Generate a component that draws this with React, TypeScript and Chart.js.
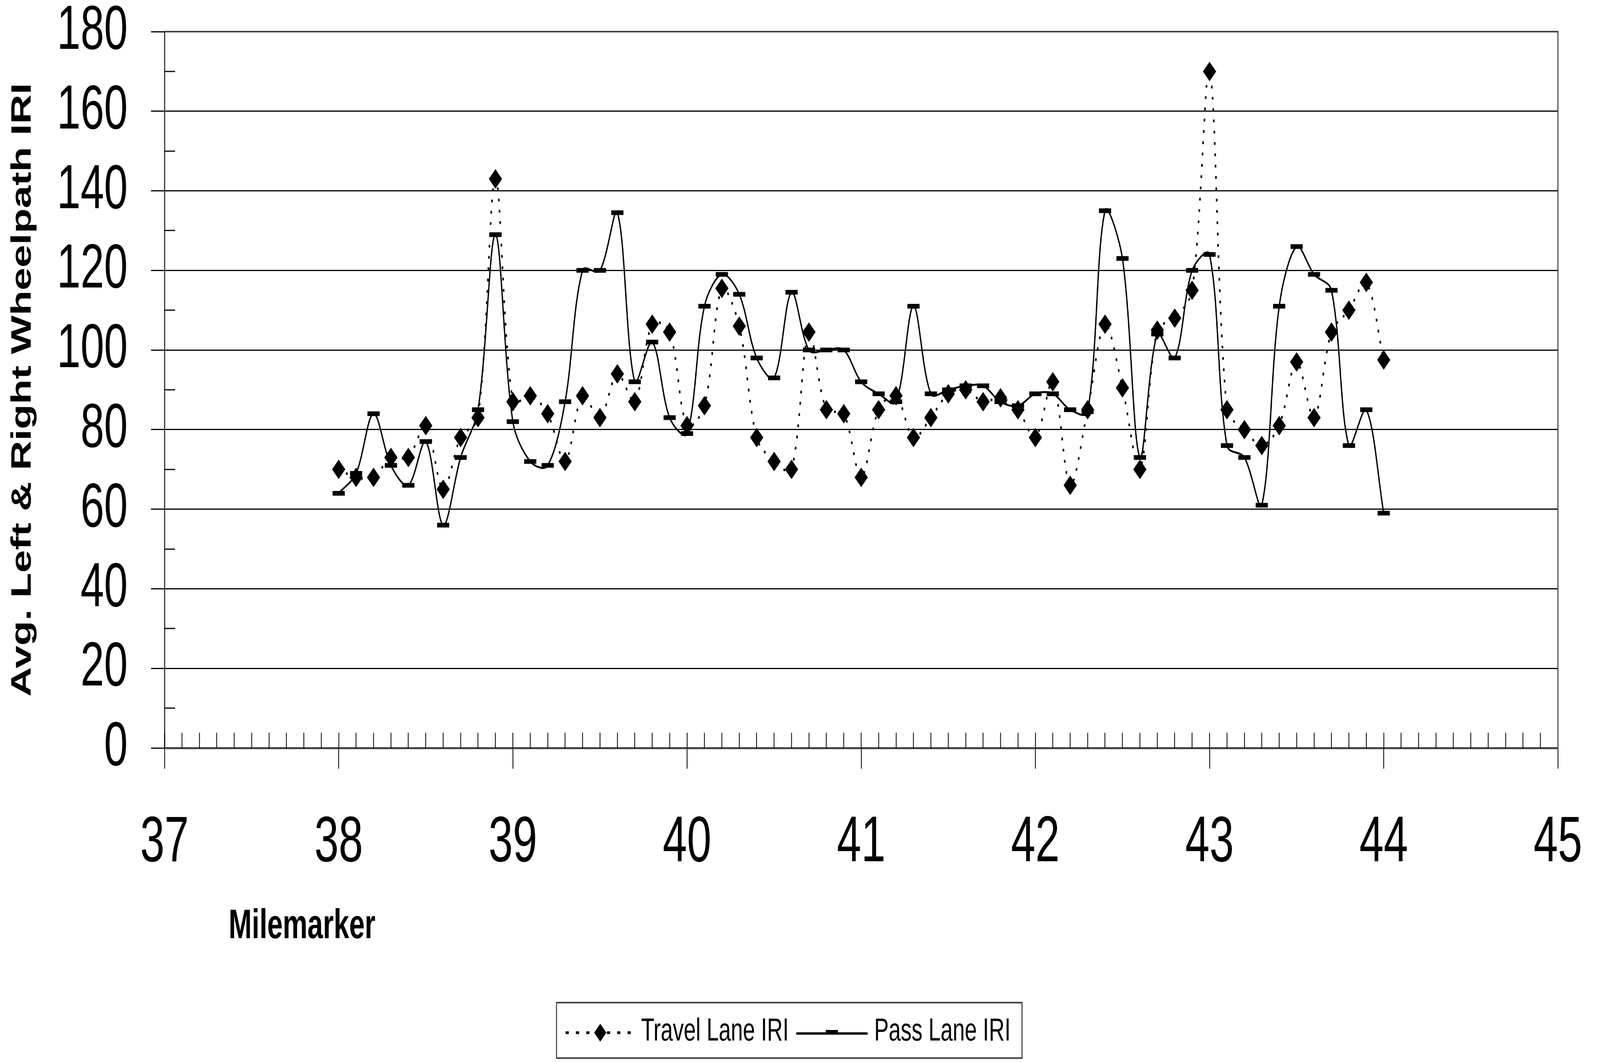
import React, { useEffect, useRef } from "react";
import { Chart, registerables } from "chart.js";

Chart.register(...registerables);

const milemarkers = [
  38.0, 38.1, 38.2, 38.3, 38.4, 38.5, 38.6, 38.7, 38.8, 38.9,
  39.0, 39.1, 39.2, 39.3, 39.4, 39.5, 39.6, 39.7, 39.8, 39.9,
  40.0, 40.1, 40.2, 40.3, 40.4, 40.5, 40.6, 40.7, 40.8, 40.9,
  41.0, 41.1, 41.2, 41.3, 41.4, 41.5, 41.6, 41.7, 41.8, 41.9,
  42.0, 42.1, 42.2, 42.3, 42.4, 42.5, 42.6, 42.7, 42.8, 42.9,
  43.0, 43.1, 43.2, 43.3, 43.4, 43.5, 43.6, 43.7, 43.8, 43.9,
  44.0,
];

const travelLaneIRI = [
  70, 68, 68, 73, 73, 81, 65, 78, 83, 143,
  87, 88.5, 84, 72, 88.5, 83, 94, 87, 106.5, 104.5,
  81, 86, 115.5, 106, 78, 72, 70, 104.5, 85, 84,
  68, 85, 88.5, 78, 83, 89, 90, 87, 88, 85,
  78, 92, 66, 85, 106.5, 90.5, 70, 105, 108, 115,
  170, 85, 80, 76, 81, 97, 83, 104.5, 110, 117,
  97.5,
];

const passLaneIRI = [
  64, 69, 84, 71, 66, 77, 56, 73, 85, 129,
  82, 72, 71, 87, 120, 120, 134.5, 92, 102, 83,
  79, 111, 119, 114, 98, 93, 114.5, 100, 100, 100,
  92, 89, 87, 111, 89, 90, 91, 91, 87, 86,
  89, 89, 85, 84.5, 135, 123, 73, 104, 98, 120,
  124, 76, 73, 61, 111, 126, 119, 115, 76, 85,
  59,
];

const seriesLabels = ["Travel Lane IRI", "Pass Lane IRI"];
const yAxisTitle = "Avg. Left & Right Wheelpath IRI";
const xAxisTitle = "Milemarker";
const xMin = 37;
const xMax = 45;
const yMin = 0;
const yMax = 180;

const W = 6040;
const H = 2719;
const FONT = "'Liberation Sans', Arial, sans-serif";

const decorPlugin = {
  id: "decor",
  beforeDraw(chart: any) {
    const ctx = chart.ctx;
    ctx.save();
    ctx.fillStyle = "#ffffff";
    ctx.fillRect(0, 0, chart.width, chart.height);
    ctx.restore();
  },
  beforeDatasetsDraw(chart: any) {
    const ctx = chart.ctx;
    const { left, right, top, bottom } = chart.chartArea;
    const xs = chart.scales.x;
    const ys = chart.scales.y;
    ctx.save();
    ctx.strokeStyle = "#000000";
    ctx.lineWidth = 3;
    // minor x ticks (inside)
    for (let i = 0; i <= (xMax - xMin) * 10; i++) {
      const px = Math.round(xs.getPixelForValue(xMin + i / 10));
      ctx.beginPath();
      ctx.moveTo(px, bottom);
      ctx.lineTo(px, bottom - 39);
      ctx.stroke();
    }
    // minor y ticks (inside)
    for (let v = yMin + 10; v < yMax; v += 20) {
      const py = Math.round(ys.getPixelForValue(v));
      ctx.beginPath();
      ctx.moveTo(left, py);
      ctx.lineTo(left + 40, py);
      ctx.stroke();
    }
    // plot border top/right
    ctx.strokeStyle = "#404040";
    ctx.lineWidth = 4;
    ctx.beginPath();
    ctx.moveTo(left, top);
    ctx.lineTo(right, top);
    ctx.lineTo(right, bottom);
    ctx.stroke();
    ctx.restore();
  },
  afterDraw(chart: any) {
    const ctx = chart.ctx;
    ctx.save();
    // x axis title
    ctx.fillStyle = "#000000";
    ctx.font = `bold 105px ${FONT}`;
    ctx.textBaseline = "alphabetic";
    ctx.textAlign = "left";
    ctx.fillText(xAxisTitle, 863, 2402);

    // legend
    const bx = 2101, by = 2567, bw = 1757, bh = 142;
    ctx.strokeStyle = "#404040";
    ctx.lineWidth = 4;
    ctx.strokeRect(bx, by, bw, bh);
    const ly = 2644;
    // travel sample
    ctx.strokeStyle = "#000000";
    ctx.lineWidth = 7;
    ctx.setLineDash([12, 27]);
    ctx.beginPath();
    ctx.moveTo(2135, ly);
    ctx.lineTo(2390, ly);
    ctx.stroke();
    ctx.setLineDash([]);
    ctx.fillStyle = "#000000";
    ctx.beginPath();
    ctx.moveTo(2243, ly);
    ctx.lineTo(2266, ly - 23);
    ctx.lineTo(2289, ly);
    ctx.lineTo(2266, ly + 23);
    ctx.closePath();
    ctx.fill();
    ctx.font = `82px ${FONT}`;
    ctx.fillText(seriesLabels[0], 2420, 2664);
    // pass sample
    ctx.lineWidth = 6;
    ctx.beginPath();
    ctx.moveTo(3006, ly + 2);
    ctx.lineTo(3275, ly + 2);
    ctx.stroke();
    ctx.fillRect(3117, ly - 7, 46, 12);
    ctx.fillText(seriesLabels[1], 3300, 2664);
    ctx.restore();
  },
};

export default function App() {
  const canvasRef = useRef<HTMLCanvasElement | null>(null);
  const sx = typeof window !== "undefined" ? window.innerWidth / W : 1;
  const sy = typeof window !== "undefined" ? window.innerHeight / H : 1;

  useEffect(() => {
    if (!canvasRef.current) return;
    const travelData = milemarkers.map((m, i) => ({ x: m, y: travelLaneIRI[i] }));
    const passData = milemarkers.map((m, i) => ({ x: m, y: passLaneIRI[i] }));
    const chart = new Chart(canvasRef.current, {
      type: "line",
      data: {
        datasets: [
          {
            label: seriesLabels[0],
            data: travelData,
            borderColor: "#000000",
            borderWidth: 6,
            borderDash: [7, 22],
            tension: 0.33,
            pointStyle: "rectRot",
            pointRadius: 25,
            pointBackgroundColor: "#000000",
            pointBorderColor: "#000000",
            pointBorderWidth: 0,
            fill: false,
          },
          {
            label: seriesLabels[1],
            data: passData,
            borderColor: "#000000",
            borderWidth: 5,
            tension: 0.33,
            pointStyle: "line",
            pointRadius: 23,
            pointBorderWidth: 12,
            pointBorderColor: "#000000",
            pointBackgroundColor: "#000000",
            fill: false,
          },
        ],
      },
      options: {
        animation: false,
        responsive: false,
        maintainAspectRatio: false,
        devicePixelRatio: 1,
        layout: { padding: { top: 81, right: 159, left: 0, bottom: 0 } },
        plugins: {
          legend: { display: false },
          tooltip: { enabled: false },
        },
        scales: {
          x: {
            type: "linear",
            min: xMin,
            max: xMax,
            ticks: {
              stepSize: 1,
              color: "#000000",
              font: { family: FONT, size: 165 },
              padding: 92,
              maxRotation: 0,
            },
            grid: {
              drawOnChartArea: false,
              drawTicks: true,
              tickLength: 53,
              color: "#000000",
              lineWidth: 3,
            },
            border: { display: true, color: "#404040", width: 5 },
            afterFit: (scale: any) => {
              scale.height = H - 1915;
              scale.paddingLeft = 0;
              scale.paddingRight = 0;
            },
          },
          y: {
            min: yMin,
            max: yMax,
            ticks: {
              stepSize: 20,
              color: "#000000",
              font: { family: FONT, size: 160 },
              padding: 88,
            },
            grid: {
              color: "#000000",
              lineWidth: 3,
              drawTicks: true,
              tickLength: 51,
            },
            border: { display: true, color: "#404040", width: 5 },
            title: {
              display: true,
              text: yAxisTitle,
              color: "#000000",
              font: { family: FONT, size: 105, weight: "bold" },
              padding: { top: 24, bottom: 0 },
            },
            afterFit: (scale: any) => {
              scale.width = 621;
              scale.paddingTop = 0;
              scale.paddingBottom = 0;
            },
          },
        },
      },
      plugins: [decorPlugin],
    } as any);
    return () => chart.destroy();
  }, []);

  return (
    <div
      style={{
        position: "fixed",
        left: 0,
        top: 0,
        width: "100vw",
        height: "100vh",
        overflow: "hidden",
        background: "#ffffff",
      }}
    >
      <div
        style={{
          position: "absolute",
          left: 0,
          top: 0,
          width: W,
          height: H,
          transform: `scale(${sx}, ${sy})`,
          transformOrigin: "0 0",
        }}
      >
        <canvas ref={canvasRef} width={W} height={H} style={{ display: "block" }} />
      </div>
    </div>
  );
}
